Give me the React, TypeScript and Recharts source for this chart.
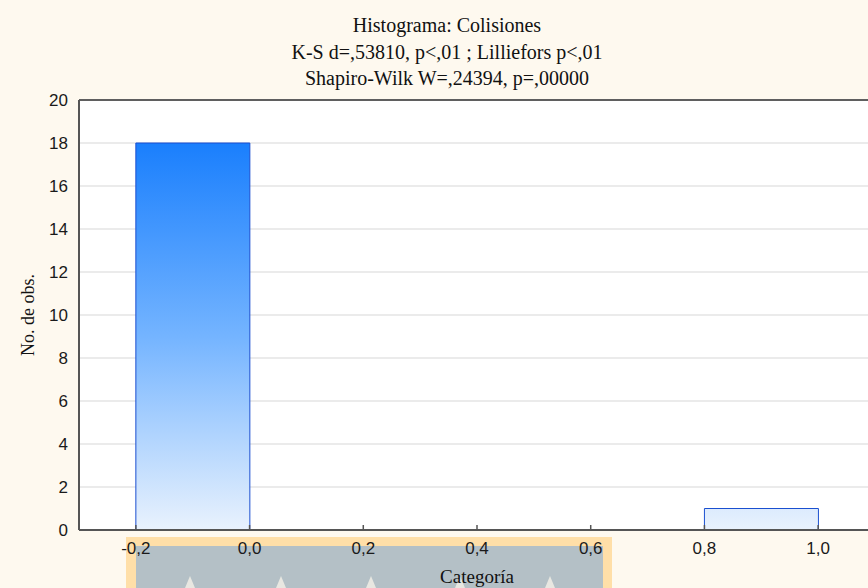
import { BarChart, Bar, XAxis, YAxis, CartesianGrid, ReferenceLine } from 'recharts';

// Histogram bins (class limits) and observed counts
const binLow = [-0.2, 0.0, 0.2, 0.4, 0.6, 0.8];
const binHigh = [0.0, 0.2, 0.4, 0.6, 0.8, 1.0];
const counts = [18, 0, 0, 0, 0, 1];

const xTicks = [-0.2, 0.0, 0.2, 0.4, 0.6, 0.8, 1.0];
const yTicks = [0, 2, 4, 6, 8, 10, 12, 14, 16, 18, 20];
const xDomain = [-0.3, 1.1];
const yDomain = [0, 20];

const titleLines = [
  'Histograma: Colisiones',
  'K-S d=,53810, p<,01 ; Lilliefors p<,01',
  'Shapiro-Wilk W=,24394, p=,00000',
];

const data = binLow.map((lo, i) => ({
  mid: (lo + binHigh[i]) / 2,
  count: counts[i],
}));

const fmt = (v: number) => v.toFixed(1).replace('.', ',');

const serif = '"Liberation Serif", "Times New Roman", serif';
const sans = '"Liberation Sans", Arial, sans-serif';

// bottom axis: tick marks point into the plot, labels sit below the line
const BottomTick = (props: any) => {
  const { x, y, payload } = props;
  return (
    <g>
      <line x1={x} y1={y} x2={x} y2={y - 5} stroke="#555" strokeWidth={1.5} />
      <text x={x} y={y + 24} textAnchor="middle" fontFamily={sans} fontSize={17} fill="#1a1a1a">
        {fmt(payload.value)}
      </text>
    </g>
  );
};

const Spikes = () => {
  const xs = [190, 281, 371, 460, 550];
  return (
    <svg width={868} height={588} style={{ position: 'absolute', left: 0, top: 0 }}>
      <rect x={126} y={537} width={486} height={51} fill="#FFDFA8" />
      <rect x={136} y={546} width={467} height={42} fill="#B4C0C6" />
      {xs.map((x) => (
        <polygon key={x} points={`${x - 5},588 ${x},576 ${x + 5},588`} fill="#E8E7E1" />
      ))}
    </svg>
  );
};

export default function App() {
  return (
    <div
      style={{
        position: 'absolute',
        left: 0,
        top: 0,
        width: 868,
        height: 588,
        overflow: 'hidden',
        background: '#FEF9EF',
      }}
    >
      <Spikes />
      <div
        style={{
          position: 'absolute',
          left: 0,
          top: 12,
          width: 894,
          textAlign: 'center',
          fontFamily: serif,
          fontSize: 20,
          lineHeight: '26.5px',
          color: '#111',
        }}
      >
        {titleLines.map((t) => (
          <div key={t}>{t}</div>
        ))}
      </div>
      <div style={{ position: 'absolute', left: 0, top: 0 }}>
        <BarChart
          width={880}
          height={588}
          data={data}
          barCategoryGap={0}
          barGap={0}
          margin={{ top: 100, right: 5, bottom: 0, left: 0 }}
        >
          <defs>
            <linearGradient id="barFill" gradientUnits="userSpaceOnUse" x1="0" y1="143" x2="0" y2="530">
              <stop offset="0%" stopColor="#1A7FFD" />
              <stop offset="50%" stopColor="#74B4FF" />
              <stop offset="100%" stopColor="#E9F2FD" />
            </linearGradient>
          </defs>
          <CartesianGrid vertical={false} fill="#FFFFFF" stroke="#E4E4E4" strokeWidth={1.5} />
          <XAxis
            dataKey="mid"
            type="number"
            domain={xDomain}
            ticks={xTicks}
            allowDataOverflow
            height={58}
            stroke="#555"
            strokeWidth={2}
            tickLine={false}
            tickSize={0}
            tickMargin={0}
            tick={<BottomTick />}
            interval={0}
            label={{
              value: 'Categoría',
              position: 'insideBottom',
              offset: 5,
              style: { fontFamily: serif, fontSize: 19, fill: '#111' },
            }}
          />
          <YAxis
            type="number"
            domain={yDomain}
            ticks={yTicks}
            width={79}
            stroke="#555"
            strokeWidth={2}
            tickLine={false}
            tickSize={0}
            tickMargin={11}
            interval={0}
            tick={{ fontFamily: sans, fontSize: 17, fill: '#1a1a1a' }}
            label={{
              value: 'No. de obs.',
              angle: -90,
              position: 'insideLeft',
              offset: 28,
              style: { textAnchor: 'middle', fontFamily: serif, fontSize: 18, fill: '#111' },
            }}
          />
          {/* top frame line */}
          <ReferenceLine y={20} stroke="#5f5f5f" strokeWidth={2} />
          <Bar
            dataKey="count"
            fill="url(#barFill)"
            stroke="#1A4FD0"
            strokeWidth={1}
            isAnimationActive={false}
          />
        </BarChart>
      </div>
    </div>
  );
}
